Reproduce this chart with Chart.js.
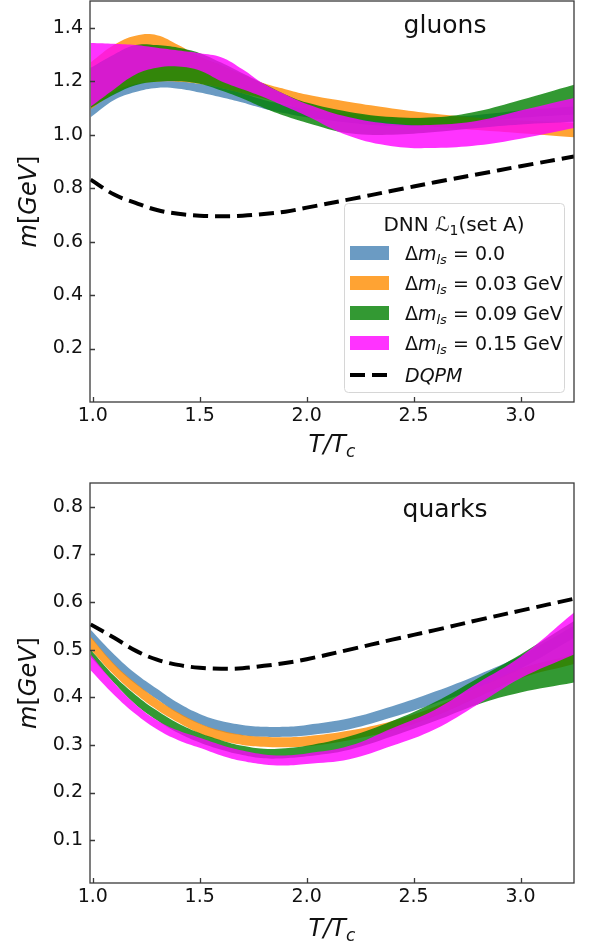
<!DOCTYPE html>
<html>
<head>
<meta charset="utf-8">
<script src="https://cdn.jsdelivr.net/npm/chart.js@4.4.1/dist/chart.umd.min.js"></script>
<style>
  html, body { margin: 0; padding: 0; background: #fff; }
  canvas { display: block; }
</style>
</head>
<body>
<canvas id="gluons" width="595" height="470"></canvas>
<canvas id="quarks" width="595" height="477"></canvas>
<script>
// T/Tc sample points
const temps = [0.99, 1.1, 1.2, 1.3, 1.4, 1.5, 1.6, 1.7, 1.8, 1.9, 2.0, 2.2, 2.4, 2.6, 2.8, 3.0, 3.25];
const xTicks = [1.0, 1.5, 2.0, 2.5, 3.0];
const gluonTicks = [0.2, 0.4, 0.6, 0.8, 1.0, 1.2, 1.4];
const quarkTicks = [0.1, 0.2, 0.3, 0.4, 0.5, 0.6, 0.7, 0.8];

// gluons: lower / upper edges of each band
const gBlueLo   = [1.065, 1.13, 1.16, 1.175, 1.172, 1.158, 1.14, 1.12, 1.097, 1.08, 1.065, 1.045, 1.033, 1.035, 1.048, 1.063, 1.075];
const gBlueHi   = [1.10, 1.162, 1.19, 1.2, 1.2, 1.19, 1.175, 1.155, 1.13, 1.112, 1.097, 1.077, 1.066, 1.065, 1.074, 1.09, 1.105];
const gOrangeLo = [1.095, 1.155, 1.188, 1.198, 1.198, 1.19, 1.175, 1.155, 1.135, 1.115, 1.095, 1.065, 1.045, 1.03, 1.017, 1.005, 0.99];
const gOrangeHi = [1.27, 1.336, 1.37, 1.372, 1.335, 1.292, 1.26, 1.225, 1.192, 1.17, 1.15, 1.122, 1.098, 1.078, 1.063, 1.053, 1.045];
const gGreenLo  = [1.10, 1.15, 1.185, 1.198, 1.2, 1.19, 1.165, 1.135, 1.10, 1.07, 1.045, 1.005, 1.0, 1.01, 1.025, 1.038, 1.048];
const gGreenHi  = [1.25, 1.30, 1.335, 1.335, 1.325, 1.305, 1.27, 1.23, 1.19, 1.15, 1.12, 1.085, 1.066, 1.065, 1.088, 1.13, 1.187];
const gMagLo    = [1.105, 1.17, 1.225, 1.25, 1.255, 1.24, 1.2, 1.17, 1.14, 1.105, 1.07, 0.995, 0.957, 0.95, 0.96, 0.985, 1.025];
const gMagHi    = [1.343, 1.34, 1.335, 1.325, 1.315, 1.305, 1.29, 1.245, 1.19, 1.15, 1.115, 1.065, 1.04, 1.037, 1.052, 1.09, 1.137];
const gDqpm     = [0.832, 0.776, 0.745, 0.718, 0.704, 0.697, 0.695, 0.697, 0.703, 0.712, 0.727, 0.758, 0.79, 0.822, 0.852, 0.882, 0.918];

// quarks
const qBlueLo   = [0.525, 0.468, 0.428, 0.396, 0.366, 0.344, 0.328, 0.32, 0.317, 0.317, 0.32, 0.333, 0.358, 0.387, 0.42, 0.46, 0.525];
const qBlueHi   = [0.542, 0.49, 0.45, 0.418, 0.388, 0.365, 0.35, 0.342, 0.338, 0.338, 0.342, 0.356, 0.381, 0.412, 0.447, 0.487, 0.55];
const qOrangeLo = [0.50, 0.447, 0.407, 0.374, 0.347, 0.324, 0.309, 0.3, 0.296, 0.295, 0.297, 0.31, 0.33, 0.36, 0.4, 0.44, 0.47];
const qOrangeHi = [0.527, 0.47, 0.43, 0.396, 0.368, 0.345, 0.33, 0.321, 0.317, 0.316, 0.318, 0.33, 0.35, 0.38, 0.42, 0.46, 0.49];
const qGreenLo  = [0.485, 0.43, 0.385, 0.352, 0.325, 0.305, 0.29, 0.279, 0.272, 0.272, 0.276, 0.29, 0.318, 0.35, 0.385, 0.41, 0.431];
const qGreenHi  = [0.50, 0.445, 0.405, 0.372, 0.345, 0.325, 0.31, 0.298, 0.292, 0.293, 0.298, 0.318, 0.35, 0.39, 0.44, 0.49, 0.56];
const qMagLo    = [0.457, 0.405, 0.365, 0.333, 0.31, 0.294, 0.278, 0.266, 0.259, 0.257, 0.26, 0.27, 0.298, 0.333, 0.385, 0.44, 0.49];
const qMagHi    = [0.49, 0.43, 0.385, 0.352, 0.33, 0.315, 0.3, 0.288, 0.28, 0.278, 0.282, 0.298, 0.335, 0.374, 0.43, 0.485, 0.578];
const qDqpm     = [0.553, 0.525, 0.498, 0.479, 0.468, 0.462, 0.46, 0.461, 0.466, 0.472, 0.48, 0.5, 0.521, 0.541, 0.562, 0.582, 0.607];

const bandNames = ['0.0', '0.03 GeV', '0.09 GeV', '0.15 GeV'];
const bandColors = ['rgba(70,130,180,0.8)', 'rgba(255,140,0,0.8)', 'rgba(0,128,0,0.8)', 'rgba(255,0,255,0.8)'];

const FONT = '"DejaVu Sans", sans-serif';

function pts(ys) {
  return temps.map((t, i) => ({ x: t, y: ys[i] }));
}

function bandSets(bands) {
  const out = [];
  bands.forEach((b, k) => {
    const ord = 40 - k * 10;
    out.push({ data: pts(b[0]), borderColor: 'transparent', borderWidth: 0, pointRadius: 0, fill: false, order: ord });
    out.push({ data: pts(b[1]), borderColor: 'transparent', borderWidth: 0, pointRadius: 0,
               fill: out.length - 1, backgroundColor: bandColors[k], order: ord });
  });
  return out;
}

// draw a run of text pieces: [text, flags] where flags: i = italic, s = subscript
function rich(ctx, parts, x, y, size, align) {
  const f = p => (p[1].includes('i') ? 'italic ' : '') + (p[1].includes('s') ? Math.round(size * 0.7) : size) + 'px ' + FONT;
  let w = 0;
  parts.forEach(p => { ctx.font = f(p); w += ctx.measureText(p[0]).width; });
  let cx = align === 'center' ? x - w / 2 : x;
  ctx.textAlign = 'left';
  ctx.textBaseline = 'alphabetic';
  parts.forEach(p => {
    ctx.font = f(p);
    ctx.fillText(p[0], cx, y + (p[1].includes('s') ? size * 0.22 : 0));
    cx += ctx.measureText(p[0]).width;
  });
}

const decor = {
  id: 'decor',
  afterDraw(chart, args, o) {
    const { ctx, chartArea: a, scales } = chart;
    ctx.save();
    ctx.strokeStyle = '#3a3a3a';
    ctx.lineWidth = 1.3;
    ctx.beginPath();
    scales.x.ticks.forEach(t => {
      const p = Math.round(scales.x.getPixelForValue(t.value)) + 0.5;
      ctx.moveTo(p, a.bottom); ctx.lineTo(p, a.bottom - 5);
    });
    scales.y.ticks.forEach(t => {
      const p = Math.round(scales.y.getPixelForValue(t.value)) + 0.5;
      ctx.moveTo(a.left, p); ctx.lineTo(a.left + 5, p);
    });
    ctx.stroke();
    ctx.strokeRect(a.left, a.top, a.right - a.left, a.bottom - a.top);

    ctx.fillStyle = '#111';
    // panel name
    ctx.font = '25px ' + FONT;
    ctx.textAlign = 'center';
    ctx.textBaseline = 'alphabetic';
    ctx.fillText(o.name, 445, a.top + o.nameY);
    // x title
    rich(ctx, [['T/T', 'i'], ['c', 'is']], (a.left + a.right) / 2, a.bottom + o.xTitleY, 24, 'center');
    // y title
    ctx.save();
    ctx.translate(36, (a.top + a.bottom) / 2);
    ctx.rotate(-Math.PI / 2);
    rich(ctx, [['m', 'i'], ['[', ''], ['GeV', 'i'], [']', '']], 0, 0, 24, 'center');
    ctx.restore();

    if (o.legend) {
      const lx = 344, ly = 203, lw = 220, lh = 189;
      ctx.beginPath();
      ctx.roundRect(lx + 0.5, ly + 0.5, lw, lh, 4);
      ctx.fillStyle = 'rgba(255,255,255,0.8)';
      ctx.fill();
      ctx.strokeStyle = '#d6d6d6';
      ctx.lineWidth = 1;
      ctx.stroke();
      ctx.fillStyle = '#111';
      rich(ctx, [['DNN ', ''], ['\u2112', 'i'], ['1', 's'], ['(set A)', '']], lx + lw / 2, ly + 28, 20, 'center');
      bandNames.forEach((n, k) => {
        const cy = ly + 50 + k * 30;
        ctx.fillStyle = bandColors[k];
        ctx.fillRect(350, cy - 7, 39, 14);
        ctx.fillStyle = '#111';
        rich(ctx, [['\u0394', ''], ['m', 'i'], ['ls', 'is'], [' = ' + n, '']], 405, cy + 7, 19, 'left');
      });
      const dy = ly + 50 + 4 * 30 + 2;
      ctx.strokeStyle = '#000';
      ctx.lineWidth = 4;
      ctx.setLineDash([15, 7]);
      ctx.beginPath();
      ctx.moveTo(350, dy); ctx.lineTo(389, dy);
      ctx.stroke();
      ctx.setLineDash([]);
      rich(ctx, [['DQPM', 'i']], 405, dy + 7, 19, 'left');
    }
    ctx.restore();
  }
};

function makeChart(id, bands, dqpm, yMin, yMax, yTicks, padTop, xH, opts) {
  const datasets = bandSets(bands);
  datasets.push({ data: pts(dqpm), borderColor: '#000', borderWidth: 4, borderDash: [15, 7],
                  pointRadius: 0, fill: false, order: 0 });
  return new Chart(document.getElementById(id), {
    type: 'line',
    data: { datasets: datasets },
    options: {
      responsive: false,
      animation: false,
      events: [],
      layout: { padding: { top: padTop, right: 21, left: 0, bottom: 0 } },
      elements: { line: { tension: 0.4, borderCapStyle: 'butt' } },
      plugins: { legend: { display: false }, tooltip: { enabled: false }, decor: opts },
      scales: {
        x: {
          type: 'linear', min: 0.987, max: 3.25,
          grid: { display: false, drawTicks: false }, border: { display: false },
          afterBuildTicks: s => { s.ticks = xTicks.map(v => ({ value: v })); },
          afterFit: s => { s.height = xH; s.paddingLeft = 0; s.paddingRight = 0; },
          ticks: { padding: 3, color: '#111', font: { family: FONT, size: 19 }, callback: v => v.toFixed(1) }
        },
        y: {
          min: yMin, max: yMax,
          grid: { display: false, drawTicks: false }, border: { display: false },
          afterBuildTicks: s => { s.ticks = yTicks.map(v => ({ value: v })); },
          afterFit: s => { s.width = 90; s.paddingTop = 0; s.paddingBottom = 0; },
          ticks: { padding: 7, color: '#111', font: { family: FONT, size: 19 }, callback: v => v.toFixed(1) }
        }
      }
    },
    plugins: [decor]
  });
}

makeChart('gluons',
  [[gBlueLo, gBlueHi], [gOrangeLo, gOrangeHi], [gGreenLo, gGreenHi], [gMagLo, gMagHi]],
  gDqpm, 0, 1.5, gluonTicks, 1, 68,
  { name: 'gluons', nameY: 32, xTitleY: 50, legend: true });

makeChart('quarks',
  [[qBlueLo, qBlueHi], [qOrangeLo, qOrangeHi], [qGreenLo, qGreenHi], [qMagLo, qMagHi]],
  qDqpm, 0.01, 0.85, quarkTicks, 13, 64,
  { name: 'quarks', nameY: 34, xTitleY: 53, legend: false });
</script>
</body>
</html>
